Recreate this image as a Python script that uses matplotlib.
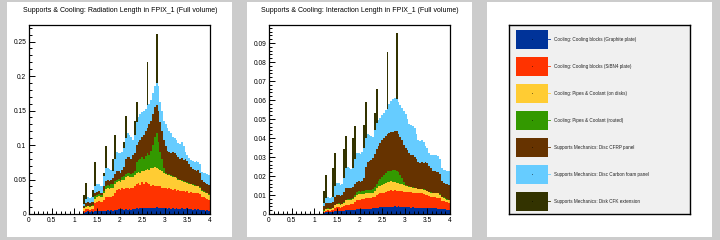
import numpy as np
import matplotlib
matplotlib.use("Agg")
import matplotlib.pyplot as plt
from matplotlib.patches import Rectangle
from matplotlib.ticker import MultipleLocator, FuncFormatter

plt.rcParams["font.family"] = ["Liberation Sans", "DejaVu Sans"]

# ── data ─────────────────────────────────────────────────────────────────────
# eta bins: 70 bins of 0.04 between 1.2 and 4.0 (nothing below 1.2)
eta_lo, eta_hi, n_bins = 1.2, 4.0, 70

labels = [
    "Cooling: Cooling blocks (Graphite plate)",
    "Cooling: Cooling blocks (SiBN4 plate)",
    "Cooling: Pipes & Coolant (on disks)",
    "Cooling: Pipes & Coolant (routed)",
    "Supports Mechanics: Disc CFRP panel",
    "Supports Mechanics: Disc Carbon foam panel",
    "Supports Mechanics: Disk CFK extension",
]
colors = ["#003399", "#ff3300", "#ffcc33", "#339900", "#663300", "#66ccff", "#333300"]

# Radiation length, stack tops (cumulative) of each component
rad_graphite = [
    .002, .003, .004, .003, .004, .003, .004, .004, .005, .004, .005, .004, .005, .006,
    .005, .006, .005, .006, .006, .007, .006, .007, .006, .007, .006, .007, .006, .007,
    .007, .008, .007, .008, .008, .009, .008, .009, .008, .009, .008, .009, .010, .009,
    .009, .008, .008, .008, .007, .008, .007, .008, .007, .008, .007, .007, .008, .007,
    .007, .008, .007, .007, .006, .007, .006, .007, .006, .006, .006, .005, .006, .005]
rad_sibn4 = [
    .005, .007, .007, .006, .007, .007, .016, .018, .019, .017, .018, .020, .024, .025,
    .024, .025, .026, .030, .035, .036, .035, .037, .036, .037, .038, .036, .037, .038,
    .040, .044, .045, .042, .046, .044, .047, .045, .043, .041, .042, .040, .040, .041,
    .040, .038, .037, .038, .036, .037, .036, .035, .036, .034, .035, .033, .034, .033,
    .032, .033, .031, .032, .031, .030, .031, .030, .029, .025, .024, .023, .022, .021]
rad_pipes_disks = [
    .008, .010, .011, .010, .011, .011, .022, .025, .026, .024, .025, .030, .036, .037,
    .036, .037, .038, .043, .047, .048, .047, .049, .050, .053, .055, .054, .053, .054,
    .056, .060, .061, .060, .063, .062, .064, .065, .064, .066, .067, .068, .066, .065,
    .064, .062, .060, .058, .056, .057, .055, .054, .053, .052, .050, .049, .048, .047,
    .046, .045, .044, .043, .042, .041, .040, .040, .038, .034, .032, .031, .030, .028]
rad_pipes_routed = [
    .009, .011, .012, .011, .012, .013, .026, .028, .029, .027, .028, .034, .041, .042,
    .041, .043, .044, .048, .050, .051, .050, .053, .055, .058, .060, .059, .058, .060,
    .063, .075, .078, .080, .082, .080, .084, .088, .085, .092, .100, .112, .118, .105,
    .090, .080, .066, .059, .057, .058, .056, .055, .054, .053, .051, .050, .049, .048,
    .047, .046, .045, .044, .043, .042, .041, .041, .039, .035, .033, .032, .031, .029]
rad_cfrp = [
    .012, .016, .017, .016, .017, .018, .030, .032, .033, .030, .031, .040, .048, .049,
    .048, .050, .052, .058, .062, .063, .060, .064, .068, .080, .083, .082, .080, .085,
    .088, .100, .104, .108, .112, .115, .120, .125, .130, .135, .145, .155, .158, .150,
    .134, .120, .108, .098, .092, .090, .088, .090, .088, .085, .082, .080, .081, .078,
    .080, .077, .072, .068, .065, .064, .063, .064, .060, .050, .046, .045, .044, .042]
rad_foam = [
    .015, .022, .024, .023, .024, .024, .040, .044, .043, .041, .040, .055, .066, .067,
    .065, .064, .063, .080, .090, .089, .088, .090, .095, .110, .117, .115, .112, .108,
    .115, .134, .140, .145, .148, .150, .152, .158, .160, .165, .175, .185, .190, .185,
    .162, .150, .135, .130, .125, .120, .118, .112, .110, .108, .103, .102, .104, .098,
    .090, .086, .081, .078, .077, .076, .077, .076, .072, .061, .060, .059, .058, .057]
rad_cfk = [
    .028, .045, .024, .023, .024, .035, .076, .044, .043, .041, .040, .060, .099, .067,
    .065, .064, .080, .115, .090, .089, .088, .090, .105, .142, .117, .115, .112, .108,
    .135, .163, .140, .145, .148, .150, .152, .220, .160, .165, .175, .185, .261, .185,
    .162, .150, .135, .130, .125, .120, .118, .112, .110, .108, .103, .102, .104, .098,
    .090, .086, .081, .078, .077, .076, .077, .076, .072, .061, .060, .059, .058, .057]

# Interaction length, stack tops (cumulative)
int_graphite = [
    .0005, .0008, .0010, .0009, .0010, .0010, .0014, .0015, .0016, .0015, .0016, .0017,
    .0020, .0021, .0020, .0022, .0021, .0023, .0024, .0025, .0024, .0026, .0025, .0027,
    .0028, .0027, .0028, .0030, .0031, .0033, .0034, .0035, .0036, .0037, .0036, .0038,
    .0037, .0039, .0038, .0040, .0039, .0040, .0038, .0037, .0036, .0036, .0035, .0036,
    .0034, .0035, .0034, .0033, .0034, .0032, .0033, .0032, .0031, .0032, .0030, .0031,
    .0029, .0030, .0029, .0028, .0028, .0026, .0025, .0024, .0023, .0022]
int_sibn4 = [
    .0012, .0018, .0020, .0018, .0020, .0021, .0030, .0035, .0036, .0034, .0035, .0040,
    .0048, .0050, .0049, .0051, .0052, .0062, .0075, .0076, .0075, .0078, .0080, .0082,
    .0085, .0084, .0086, .0088, .0092, .0100, .0105, .0108, .0110, .0112, .0115, .0120,
    .0122, .0125, .0122, .0124, .0121, .0122, .0120, .0119, .0118, .0117, .0116, .0115,
    .0114, .0113, .0112, .0111, .0110, .0108, .0109, .0106, .0100, .0098, .0094, .0090,
    .0088, .0087, .0086, .0085, .0082, .0070, .0066, .0064, .0062, .0060]
int_pipes_disks = [
    .0018, .0025, .0028, .0026, .0028, .0030, .0045, .0052, .0053, .0050, .0051, .0060,
    .0072, .0075, .0074, .0076, .0078, .0090, .0102, .0104, .0103, .0105, .0106, .0108,
    .0110, .0109, .0111, .0113, .0120, .0135, .0145, .0150, .0155, .0158, .0162, .0168,
    .0170, .0172, .0170, .0168, .0165, .0163, .0160, .0158, .0155, .0150, .0146, .0143,
    .0141, .0139, .0137, .0135, .0132, .0130, .0131, .0128, .0124, .0120, .0116, .0113,
    .0111, .0110, .0109, .0108, .0102, .0090, .0085, .0080, .0076, .0072]
int_pipes_routed = [
    .0020, .0027, .0030, .0028, .0030, .0032, .0048, .0055, .0056, .0053, .0054, .0064,
    .0076, .0079, .0078, .0080, .0082, .0098, .0118, .0120, .0118, .0120, .0122, .0124,
    .0126, .0125, .0127, .0130, .0140, .0160, .0175, .0185, .0195, .0205, .0215, .0225,
    .0225, .0228, .0230, .0232, .0228, .0222, .0205, .0190, .0170, .0152, .0148, .0145,
    .0143, .0141, .0139, .0137, .0134, .0132, .0133, .0130, .0126, .0122, .0118, .0115,
    .0113, .0112, .0111, .0110, .0104, .0092, .0087, .0082, .0078, .0074]
int_cfrp = [
    .0040, .0058, .0060, .0058, .0060, .0062, .0090, .0100, .0102, .0096, .0098, .0115,
    .0135, .0138, .0136, .0138, .0140, .0160, .0170, .0172, .0170, .0175, .0190, .0250,
    .0275, .0280, .0285, .0295, .0315, .0340, .0360, .0375, .0390, .0400, .0410, .0420,
    .0425, .0430, .0433, .0436, .0435, .0420, .0405, .0390, .0365, .0345, .0335, .0320,
    .0312, .0308, .0300, .0290, .0275, .0270, .0272, .0268, .0275, .0270, .0255, .0240,
    .0228, .0225, .0222, .0220, .0210, .0175, .0165, .0160, .0158, .0155]
int_foam = [
    .0060, .0085, .0088, .0086, .0088, .0090, .0150, .0165, .0162, .0155, .0158, .0190,
    .0240, .0245, .0240, .0238, .0240, .0290, .0320, .0322, .0318, .0325, .0350, .0400,
    .0420, .0415, .0410, .0405, .0440, .0480, .0495, .0505, .0520, .0530, .0545, .0555,
    .0580, .0595, .0605, .0610, .0605, .0590, .0575, .0560, .0540, .0525, .0500, .0475,
    .0470, .0462, .0455, .0420, .0390, .0385, .0392, .0380, .0360, .0345, .0320, .0310,
    .0308, .0310, .0309, .0305, .0290, .0240, .0232, .0230, .0228, .0225]
int_cfk = [
    .0120, .0205, .0088, .0086, .0088, .0240, .0320, .0165, .0162, .0155, .0158, .0340,
    .0410, .0245, .0240, .0238, .0400, .0465, .0320, .0322, .0318, .0325, .0470, .0590,
    .0420, .0415, .0410, .0405, .0530, .0660, .0495, .0505, .0520, .0530, .0545, .0855,
    .0580, .0595, .0605, .0610, .0955, .0590, .0575, .0560, .0540, .0525, .0500, .0475,
    .0470, .0462, .0455, .0420, .0390, .0385, .0392, .0380, .0360, .0345, .0320, .0310,
    .0308, .0310, .0309, .0305, .0290, .0240, .0232, .0230, .0228, .0225]

rad_stack = [rad_graphite, rad_sibn4, rad_pipes_disks, rad_pipes_routed,
             rad_cfrp, rad_foam, rad_cfk]
int_stack = [int_graphite, int_sibn4, int_pipes_disks, int_pipes_routed,
             int_cfrp, int_foam, int_cfk]

# ── layout (pixels on a 720x240 canvas) ──────────────────────────────────────
W, H = 720, 240
_CANVAS = "#cccccc"
_LEGBG = "#f0f0f0"

fig = plt.figure(figsize=(7.2, 2.4), dpi=100, facecolor=_CANVAS)


def fx(px, py, w, h):
    """pixel box (top-left origin) -> figure fraction rect"""
    return [px / W, 1 - (py + h) / H, w / W, h / H]


# white pads, kept behind the axes
for x0 in (7, 247, 487):
    fig.patches.append(Rectangle((x0 / W, 3 / H), 225 / W, 235 / H,
                                 transform=fig.transFigure, facecolor="white",
                                 edgecolor="none", zorder=-10))

edges = np.linspace(eta_lo, eta_hi, n_bins + 1)
fmt = FuncFormatter(lambda v, _p: "%g" % round(v, 6))


def draw_stack(ax, stack, ymax, major, minor, title, title_x):
    # THStack style: each cumulative histogram filled from zero, top layer first
    for top, col in reversed(list(zip(stack, colors))):
        ax.stairs(top, edges, baseline=0, fill=True, color=col, lw=0, zorder=1)
    ax.set_xlim(0, 4)
    ax.set_ylim(0, ymax)
    ax.xaxis.set_major_locator(MultipleLocator(0.5))
    ax.xaxis.set_minor_locator(MultipleLocator(0.1))
    ax.yaxis.set_major_locator(MultipleLocator(major))
    ax.yaxis.set_minor_locator(MultipleLocator(minor))
    ax.xaxis.set_major_formatter(fmt)
    ax.yaxis.set_major_formatter(fmt)
    ax.tick_params(which="both", direction="in", width=0.7, labelsize=4.8,
                   top=False, right=False, colors="black", pad=2)
    ax.tick_params(which="major", length=4.5)
    ax.tick_params(which="minor", length=2.2)
    for sp in ax.spines.values():
        sp.set_linewidth(0.9)
        sp.set_zorder(3)
    fig.text(title_x, 1 - 11 / H, title, ha="center", va="center", fontsize=5.0)


ax1 = fig.add_axes(fx(29, 25, 181, 189))
draw_stack(ax1, rad_stack, 0.274, 0.05, 0.01,
           "Supports & Cooling: Radiation Length in FPIX_1 (Full volume)", 120 / W)

ax2 = fig.add_axes(fx(269, 25, 181, 189))
draw_stack(ax2, int_stack, 0.0995, 0.01, 0.002,
           "Supports & Cooling: Interaction Length in FPIX_1 (Full volume)", 360 / W)

# ── legend pad ───────────────────────────────────────────────────────────────
lg = fig.add_axes(fx(509, 25, 181, 189), facecolor=_LEGBG)
lg.set_xlim(509, 690)
lg.set_ylim(214, 25)
lg.set_xticks([])
lg.set_yticks([])
for sp in lg.spines.values():
    sp.set_linewidth(1.0)

for k, (lab, col) in enumerate(zip(labels, colors)):
    cy = 39.3 + 27 * k
    lg.add_patch(Rectangle((516, cy - 9.3), 32, 18.7, facecolor=col, edgecolor="none"))
    lg.plot([548, 550], [cy, cy], color=col, lw=0.6)
    lg.plot([532], [cy], marker="s", ms=0.5, color="black", mec="none")
    lg.text(554, cy, lab, ha="left", va="center", fontsize=3.3, color="#222222")

fig.savefig("out.png", dpi=100, facecolor=_CANVAS)
